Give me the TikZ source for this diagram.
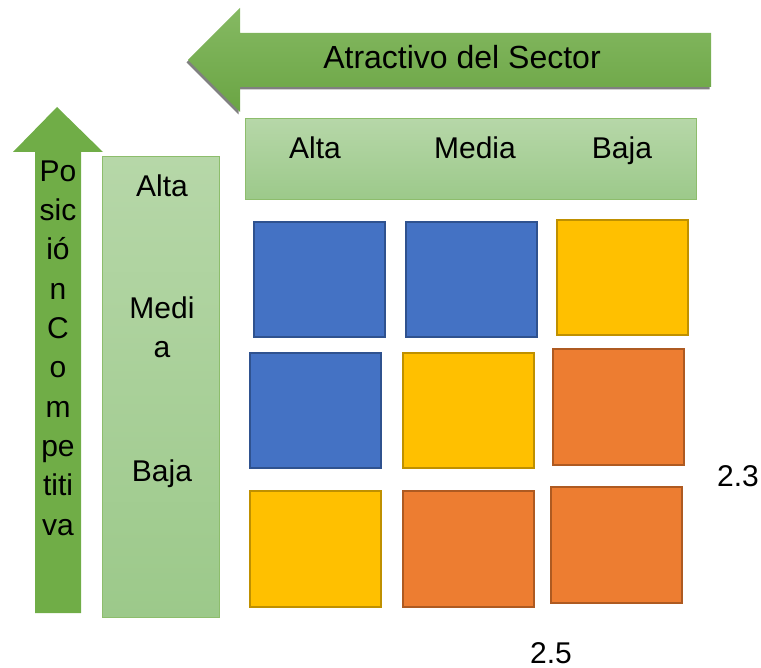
\documentclass[tikz,border=0pt]{standalone}
\usepackage{fontspec}
\setmainfont{Liberation Sans}

\definecolor{verde}{HTML}{70AD47}
\definecolor{verdeclaro}{HTML}{B6D7A8}
\definecolor{verdemedio}{HTML}{9CC98A}
\definecolor{azul}{HTML}{4472C4}
\definecolor{azulborde}{HTML}{2F528F}
\definecolor{amarillo}{HTML}{FFC000}
\definecolor{amarilloborde}{HTML}{BF9000}
\definecolor{naranja}{HTML}{ED7D31}
\definecolor{naranjaborde}{HTML}{AE5A21}

\begin{document}
\begin{tikzpicture}[x=1pt, y=-1pt,
    texto/.style={font=\fontsize{30}{39.3}\selectfont, inner sep=0pt, align=center},
    etiqueta/.style={texto, anchor=base},
    caja/.style={line width=1.2pt},
    alto/.style={caja, fill=azul, draw=azulborde},
    medio/.style={caja, fill=amarillo, draw=amarilloborde},
    bajo/.style={caja, fill=naranja, draw=naranjaborde}] %matriz
            \useasboundingbox (0,0) rectangle (761,668);

            % flecha superior
            \fill[black!50] (186.5,62.5) -- (238.5,10.5) -- (238.5,35.5) -- (709.5,35.5) -- (709.5,89.5) -- (238.5,89.5) -- (238.5,114.5) -- cycle;
            \shade[top color=verde!85!white, bottom color=verde!95!black] (188,60) -- (240,8) -- (240,33) -- (711,33) -- (711,87) -- (240,87) -- (240,112) -- cycle;
            \node[etiqueta, font=\fontsize{32}{38}\selectfont] (sector) at (462,68.5) {Atractivo del Sector};

            % flecha izquierda
            \fill[verde] (57,107) -- (103,152) -- (81,152) -- (81,613) -- (35,613) -- (35,152) -- (13,152) -- cycle;
            \node[texto] (posicion) at (58,348) {Po\\sic\\ió\\n\\C\\o\\m\\pe\\titi\\va};

            % cabeceras
            \shade[top color=verdeclaro, bottom color=verdemedio] (245,119) rectangle (696,200);
            \draw[verde!80!white, line width=1pt] (245,119) rectangle (696,200);
            \node[etiqueta] (colalta) at (315,159) {Alta};
            \node[etiqueta] (colmedia) at (475,159) {Media};
            \node[etiqueta] (colbaja) at (622,159) {Baja};

            \shade[top color=verdeclaro, bottom color=verdemedio] (102,157) rectangle (219,617);
            \draw[verde!80!white, line width=1pt] (102,157) rectangle (219,617);
            \node[etiqueta] (filalta) at (162,197) {Alta};
            \node[texto] (filmedia) at (162,327) {Medi\\a};
            \node[etiqueta] (filbaja) at (162,481) {Baja};

            % casillas
            \draw[alto] (254,222) rectangle (385,337);
            \draw[alto] (406,222) rectangle (537,337);
            \draw[medio] (557,220) rectangle (688,335);
            \draw[alto] (250,353) rectangle (381,468);
            \draw[medio] (403,353) rectangle (534,468);
            \draw[bajo] (553,349) rectangle (684,465);
            \draw[medio] (250,491) rectangle (381,607);
            \draw[bajo] (403,491) rectangle (534,607);
            \draw[bajo] (551,487) rectangle (682,603);

            \node[etiqueta] (valory) at (738,486) {2.3};
            \node[etiqueta] (valorx) at (551,663) {2.5};
        \end{tikzpicture}
\end{document}
